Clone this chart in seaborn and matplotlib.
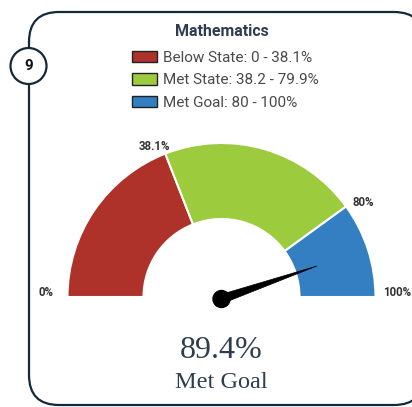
import numpy as np
import matplotlib.pyplot as plt
import seaborn as sns
from matplotlib.patches import Wedge, Circle, Polygon, FancyBboxPatch, Patch

# data
subject = "Mathematics"
band_names = ["Below State", "Met State", "Met Goal"]
band_ranges = ["0 - 38.1%", "38.2 - 79.9%", "80 - 100%"]
band_edges = [0, 38.1, 80, 100]
edge_labels = ["0%", "38.1%", "80%", "100%"]
band_colors = ["#ae322a", "#9dcb3e", "#337fc1"]
score = 89.4
score_label = "Met Goal"
card_number = "9"

sns.set_theme(style="white")
plt.rcParams['font.family'] = ['Roboto', 'DejaVu Sans']

W, H = 412, 407
fig = plt.figure(figsize=(W / 100, H / 100), dpi=100)
ax = fig.add_axes([0, 0, 1, 1])
ax.set_xlim(0, W)
ax.set_ylim(0, H)
ax.set_aspect('equal')
ax.axis('off')

ink = "#14293a"

# card outline
card = FancyBboxPatch((29, 2), 395, 393, boxstyle="round,pad=0,rounding_size=30",
                      fc="white", ec=ink, lw=1.6, zorder=0)
ax.add_patch(card)
ax.add_patch(Circle((28.5, 407 - 66), 18, fc="white", ec=ink, lw=1.6, zorder=2))
ax.text(28.5, 407 - 66, card_number, ha='center', va='center', fontsize=11,
        fontweight='bold', color="#111111", zorder=3)

# title
ax.text(221.5, 407 - 31, subject, ha='center', va='center', fontsize=11.5,
        fontweight='bold', color="#2e3d4f")

# legend
handles = [Patch(fc=c, ec="#222222", lw=1.0, label=f"{n}: {r}")
           for n, c, r in zip(band_names, band_colors, band_ranges)]
leg = ax.legend(handles=handles, loc='upper left', bbox_to_anchor=(132 / W, 1 - 51 / H),
                bbox_transform=fig.transFigure, frameon=False, fontsize=11,
                handlelength=1.65, handleheight=0.75, handletextpad=0.4,
                labelspacing=0.55, borderaxespad=0, borderpad=0)
for t in leg.get_texts():
    t.set_color("#4a4a4a")

# gauge
cx, cy = 221.5, 407 - 297
r_out, r_in = 154, 78


def to_angle(v):
    return 180 - 180 * v / 100.0


for i, c in enumerate(band_colors):
    a1 = to_angle(band_edges[i + 1])
    a0 = to_angle(band_edges[i])
    ax.add_patch(Wedge((cx, cy), r_out, a1, a0, width=r_out - r_in,
                       fc=c, ec="white", lw=1.5, zorder=2))

# edge labels
label_pos = [(46, 293), (154, 147), (363, 202), (397, 293)]
for lab, (x, y) in zip(edge_labels, label_pos):
    ax.text(x, 407 - y, lab, ha='center', va='center', fontsize=8.3,
            fontweight='bold', color="#333333")

# needle
ncx, ncy = cx, cy - 2
th = np.deg2rad(to_angle(score))
L = 101
ux, uy = np.cos(th), np.sin(th)
px, py = -uy, ux
tip = (ncx + L * ux, ncy + L * uy)
base_w = 4.5
needle = Polygon([tip, (ncx + px * base_w, ncy + py * base_w),
                  (ncx - px * base_w, ncy - py * base_w)],
                 closed=True, fc="black", ec="black", lw=0.5, zorder=4)
ax.add_patch(needle)
ax.add_patch(Circle((ncx, ncy), 8.5, fc="black", ec="black", zorder=4))

# value text
ax.text(221.5, 407 - 350, f"{score}%", ha='center', va='center', fontsize=23,
        family='Liberation Serif', color="#2e3d4f")
ax.text(221.5, 407 - 383, score_label, ha='center', va='center', fontsize=17.5,
        family='Liberation Serif', color="#2e3d4f")

fig.savefig("out.png", dpi=100)
